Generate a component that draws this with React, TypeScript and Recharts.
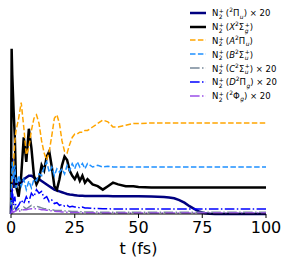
import { LineChart, Line, XAxis, YAxis } from "recharts";

const times = [
  0, 0.25, 0.5, 1, 1.5, 2, 3, 4, 5, 6, 7, 8, 9, 10, 11, 12, 13, 14, 15, 16, 17, 18, 19, 20, 21, 22, 23, 24, 25, 26, 27, 28,
  29, 30, 32, 34, 36, 38, 40, 42, 45, 48, 50, 55, 60, 62, 64, 66, 68, 70, 72, 74, 76, 78, 80, 90, 100,
];

// 2Πu x 20
const piU = [
  0, 0.2, 0.32, 0.15, 0.28, 0.2, 0.17, 0.18, 0.2, 0.21, 0.22, 0.22, 0.21, 0.2, 0.2, 0.19, 0.18, 0.17, 0.16, 0.15, 0.14,
  0.135, 0.13, 0.125, 0.12, 0.115, 0.112, 0.11, 0.108, 0.106, 0.105, 0.105, 0.104, 0.104, 0.103, 0.103, 0.103, 0.103,
  0.102, 0.102, 0.102, 0.102, 0.102, 0.1, 0.098, 0.095, 0.09, 0.08, 0.065, 0.045, 0.028, 0.013, 0.004, 0.001, 0, 0, 0,
];
// X2Σg+
const xState = [
  0, 0.95, 0.8, 0.6, 0.44, 0.16, 0.1, 0.22, 0.44, 0.3, 0.49, 0.38, 0.22, 0.17, 0.2, 0.28, 0.25, 0.33, 0.36, 0.27, 0.16,
  0.14, 0.2, 0.28, 0.33, 0.31, 0.25, 0.22, 0.2, 0.23, 0.19, 0.22, 0.18, 0.2, 0.17, 0.16, 0.14, 0.16, 0.18, 0.17, 0.16,
  0.16, 0.155, 0.153, 0.152, 0.152, 0.152, 0.152, 0.152, 0.152, 0.152, 0.152, 0.152, 0.152, 0.152, 0.152, 0.152,
];
// A2Πu
const aState = [
  0, 0.1, 0.2, 0.3, 0.42, 0.48, 0.55, 0.64, 0.5, 0.34, 0.38, 0.48, 0.55, 0.57, 0.52, 0.42, 0.35, 0.31, 0.36, 0.45,
  0.55, 0.57, 0.52, 0.42, 0.36, 0.35, 0.4, 0.44, 0.46, 0.46, 0.47, 0.47, 0.48, 0.48, 0.5, 0.52, 0.54, 0.53, 0.5, 0.5,
  0.51, 0.52, 0.52, 0.523, 0.523, 0.523, 0.523, 0.523, 0.523, 0.523, 0.523, 0.523, 0.523, 0.523, 0.523, 0.523, 0.523,
];
// B2Σu+
const bState = [
  0.05, 0.2, 0.3, 0.2, 0.28, 0.15, 0.22, 0.16, 0.2, 0.14, 0.19, 0.15, 0.2, 0.19, 0.23, 0.22, 0.27, 0.3, 0.24, 0.27,
  0.22, 0.26, 0.24, 0.26, 0.23, 0.28, 0.25, 0.29, 0.26, 0.3, 0.27, 0.29, 0.26, 0.29, 0.27, 0.28, 0.27, 0.275, 0.27,
  0.27, 0.27, 0.27, 0.27, 0.27, 0.27, 0.27, 0.27, 0.27, 0.27, 0.27, 0.27, 0.27, 0.27, 0.27, 0.27, 0.27, 0.27,
];
// C2Σu+ x 20
const cState = [
  0, 0.03, 0.05, 0.02, 0.04, 0.02, 0.03, 0.02, 0.04, 0.03, 0.04, 0.05, 0.04, 0.045, 0.04, 0.035, 0.03, 0.03, 0.025,
  0.025, 0.022, 0.02, 0.02, 0.02, 0.018, 0.017, 0.016, 0.015, 0.015, 0.014, 0.013, 0.012, 0.012, 0.012, 0.011, 0.011,
  0.01, 0.01, 0.01, 0.01, 0.01, 0.01, 0.01, 0.01, 0.01, 0.01, 0.01, 0.01, 0.01, 0.01, 0.01, 0.01, 0.01, 0.01, 0.01,
  0.01, 0.01,
];
// D2Πg x 20
const dState = [
  0, 0.08, 0.15, 0.05, 0.1, 0.03, 0.05, 0.08, 0.06, 0.1, 0.07, 0.12, 0.1, 0.14, 0.12, 0.13, 0.09, 0.1, 0.07, 0.08,
  0.06, 0.065, 0.05, 0.055, 0.045, 0.05, 0.04, 0.045, 0.04, 0.04, 0.035, 0.04, 0.035, 0.035, 0.032, 0.032, 0.03, 0.03,
  0.029, 0.029, 0.029, 0.029, 0.029, 0.029, 0.029, 0.029, 0.029, 0.029, 0.029, 0.029, 0.029, 0.029, 0.029, 0.029,
  0.029, 0.029, 0.029,
];
// 2Φg x 20
const phiG = [
  0, 0.01, 0.02, 0.01, 0.015, 0.02, 0.015, 0.02, 0.025, 0.025, 0.028, 0.03, 0.03, 0.03, 0.028, 0.025, 0.024, 0.022,
  0.02, 0.018, 0.016, 0.015, 0.014, 0.012, 0.011, 0.01, 0.009, 0.009, 0.008, 0.008, 0.008, 0.007, 0.007, 0.007, 0.007,
  0.006, 0.006, 0.006, 0.006, 0.006, 0.006, 0.006, 0.006, 0.006, 0.006, 0.006, 0.006, 0.006, 0.006, 0.006, 0.006,
  0.006, 0.006, 0.006, 0.006, 0.006, 0.006,
];

const xTicks = [0, 25, 50, 75, 100];

const data = times.map((t, i) => ({
  t,
  piU: piU[i],
  x: xState[i],
  a: aState[i],
  b: bState[i],
  c: cState[i],
  d: dState[i],
  phi: phiG[i],
}));

const series = [
  { key: "piU", color: "#000080", width: 2.5, dash: undefined, state: ["", "2", "Π", "u"], x20: true },
  { key: "x", color: "#000000", width: 2.5, dash: undefined, state: ["X", "2", "Σ", "g", "+"], x20: false },
  { key: "a", color: "#FFA500", width: 1.5, dash: "5.5 2.4", state: ["A", "2", "Π", "u"], x20: false },
  { key: "b", color: "#1E90FF", width: 1.5, dash: "5.5 2.4", state: ["B", "2", "Σ", "u", "+"], x20: false },
  { key: "c", color: "#778899", width: 1.5, dash: "9.6 2.4 1.5 2.4", state: ["C", "2", "Σ", "u", "+"], x20: true },
  { key: "d", color: "#0000FF", width: 1.5, dash: "9.6 2.4 1.5 2.4", state: ["D", "2", "Π", "g"], x20: true },
  { key: "phi", color: "#9A4FE8", width: 1.5, dash: "9.6 2.4 1.5 2.4", state: ["", "2", "Φ", "g"], x20: true },
];

function SubSup({ sub, sup }: { sub: string; sup: string }) {
  return (
    <span
      style={{
        display: "inline-flex",
        flexDirection: "column",
        fontSize: "0.7em",
        lineHeight: 0.95,
        verticalAlign: "middle",
        marginLeft: 0.5,
      }}
    >
      <span style={{ minHeight: "0.9em" }}>{sup}</span>
      <span style={{ minHeight: "0.9em", fontStyle: sub === "2" ? "normal" : "italic" }}>{sub}</span>
    </span>
  );
}

function Label({ state, x20 }: { state: string[]; x20: boolean }) {
  const [letter, mult, sym, par, sign] = state;
  return (
    <span>
      N<SubSup sub="2" sup="+" />
      <span style={{ marginLeft: 2 }}>(</span>
      <i>{letter}</i>
      <sup style={{ fontSize: "0.7em" }}>{mult}</sup>
      {sym}
      <SubSup sub={par} sup={sign || ""} />)
      {x20 ? " × 20" : ""}
    </span>
  );
}

export default function App() {
  return (
    <div style={{ position: "absolute", left: 0, top: 0, width: 288, height: 262, background: "#fff" }}>
      <LineChart width={288} height={262} data={data} margin={{ top: 40, right: 22, left: 11, bottom: 0 }}>
        <XAxis
          dataKey="t"
          type="number"
          domain={[0, 100]}
          ticks={xTicks}
          height={48}
          tickSize={4}
          tickMargin={4}
          stroke="#000"
          tick={{ fill: "#000", fontSize: 16, fontFamily: "DejaVu Sans" }}
          label={{
            value: "t (fs)",
            position: "insideBottom",
            offset: 8,
            fill: "#000",
            fontSize: 16,
            fontFamily: "DejaVu Sans",
          }}
        />
        <YAxis hide domain={[0, 1]} />
        {series.map((s) => (
          <Line
            key={s.key}
            dataKey={s.key}
            stroke={s.color}
            strokeWidth={s.width}
            strokeDasharray={s.dash}
            dot={false}
            isAnimationActive={false}
            type="linear"
          />
        ))}
      </LineChart>
      <div
        style={{
          position: "absolute",
          left: 190,
          top: 6,
          fontFamily: "DejaVu Sans",
          fontSize: 8.5,
          color: "#000",
        }}
      >
        {series.map((s) => (
          <div key={s.key} style={{ display: "flex", alignItems: "center", height: 13.8 }}>
            <svg width={16} height={4} style={{ marginRight: 6 }}>
              <line
                x1={0}
                y1={2}
                x2={16}
                y2={2}
                stroke={s.color}
                strokeWidth={s.width}
                strokeDasharray={s.dash}
              />
            </svg>
            <Label state={s.state} x20={s.x20} />
          </div>
        ))}
      </div>
    </div>
  );
}
